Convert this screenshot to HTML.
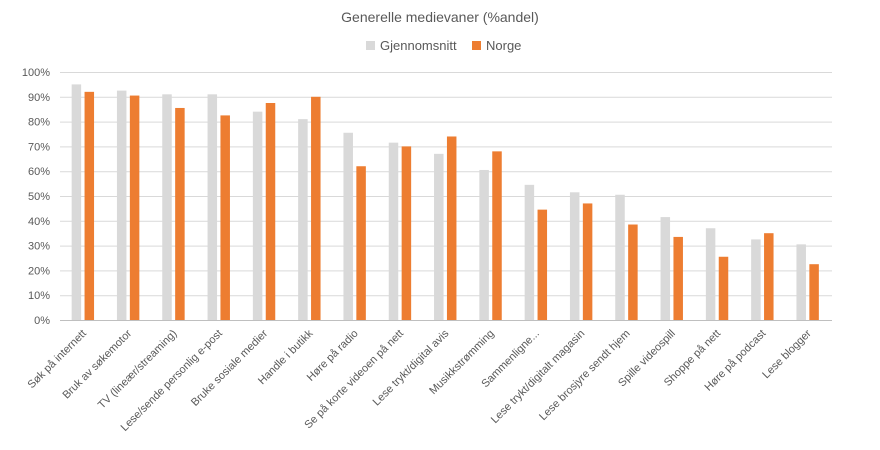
<!DOCTYPE html>
<html><head><meta charset="utf-8"><style>
body{margin:0;background:#fff;}
svg{display:block;font-family:"Liberation Sans",sans-serif;}
</style></head><body>
<svg width="880" height="450" xmlns="http://www.w3.org/2000/svg">
<text x="440" y="22" text-anchor="middle" font-size="14" fill="#595959">Generelle medievaner (%andel)</text>
<rect x="366" y="41" width="9" height="9" fill="#d9d9d9"/>
<text x="380" y="50" font-size="13" fill="#595959">Gjennomsnitt</text>
<rect x="472" y="41" width="9" height="9" fill="#ed7d31"/>
<text x="486" y="50" font-size="13" fill="#595959">Norge</text>
<g id="grid" stroke="#d9d9d9" stroke-width="1"></g>
<g id="ylab" font-size="11" fill="#595959" text-anchor="end"></g>
<g id="bars"></g>
<g id="xlab" font-size="11" fill="#595959" text-anchor="end"></g>
</svg>
<script>
const ns="http://www.w3.org/2000/svg";
function el(t,a,p,txt){const e=document.createElementNS(ns,t);for(const k in a)e.setAttribute(k,a[k]);if(txt)e.textContent=txt;document.getElementById(p).appendChild(e);}
const y0=320,ppu=2.48,x0=60.2,cw=45.3;
for(let i=0;i<=10;i++){const y=y0-i*24.8;el('line',{x1:60,x2:832,y1:y+0.5,y2:y+0.5,stroke:i==0?'#bfbfbf':'#d9d9d9'},'grid');el('text',{x:50,y:y+4},'ylab',(i*10)+'%');}
const labels=["Søk på internett","Bruk av søkemotor","TV (lineær/streaming)","Lese/sende personlig e-post","Bruke sosiale medier","Handle i butikk","Høre på radio","Se på korte videoen på nett","Lese trykt/digital avis","Musikkstrømming","Sammenligne...","Lese trykt/digitalt magasin","Lese brosjyre sendt hjem","Spille videospill","Shoppe på nett","Høre på podcast","Lese blogger"];
const g=[95,92.5,91,91,84,81,75.5,71.5,67,60.5,54.5,51.5,50.5,41.5,37,32.5,30.5];
const o=[92,90.5,85.5,82.5,87.5,90,62,70,74,68,44.5,47,38.5,33.5,25.5,35,22.5];
for(let i=0;i<17;i++){const c=x0+cw*(i+0.5);
el('rect',{x:c-11.2,y:y0-g[i]*ppu,width:9.5,height:g[i]*ppu,fill:'#d9d9d9'},'bars');
el('rect',{x:c+1.7,y:y0-o[i]*ppu,width:9.5,height:o[i]*ppu,fill:'#ed7d31'},'bars');
el('text',{x:c+4,y:334,transform:`rotate(-45 ${c+4} 334)`},'xlab',labels[i]);}
</script>
</body></html>
